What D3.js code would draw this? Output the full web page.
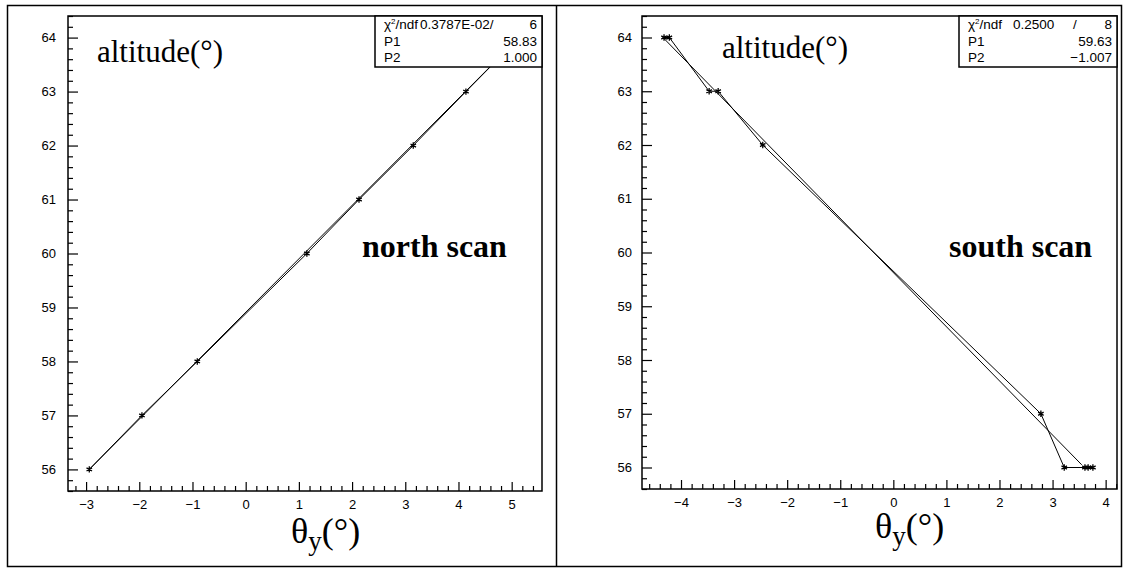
<!DOCTYPE html>
<html>
<head>
<meta charset="utf-8">
<script src="https://cdn.jsdelivr.net/npm/d3@7"></script>
<style>
  body { margin: 0; background: #fff; }
  svg { display: block; }
  .tick text { font-family: "Liberation Sans", Arial, sans-serif; font-size: 13px; fill: #000; }
  .stat { font-family: "Liberation Sans", Arial, sans-serif; font-size: 13.5px; }
  .serif { font-family: "Liberation Serif", "Times New Roman", serif; }
</style>
</head>
<body>
<svg width="1125" height="572"></svg>
<script>
// north scan
const northTheta = [-2.94, -1.95, -0.91, 1.15, 2.13, 3.15, 4.14, 5.14]
const northAlt = [56, 57, 58, 60, 61, 62, 63, 64]
const northFit = [[-2.94, 56], [5.14, 64]]
const northStats = [["0.3787E-02/", "6"], ["", "58.83"], ["", "1.000"]]

// south scan
const southTheta = [-4.32, -4.22, -3.47, -3.30, -2.46, 2.78, 3.22, 3.61, 3.67, 3.76]
const southAlt = [64, 64, 63, 63, 62, 57, 56, 56, 56, 56]
const southFit = [[-4.35, 64.01], [3.55, 56.05]]
const southStats = [["0.2500", "/", "8"], ["", "59.63"], ["", "\u22121.007"]]

const altTicks = [56, 57, 58, 59, 60, 61, 62, 63, 64]
const northXTicks = [-3, -2, -1, 0, 1, 2, 3, 4, 5]
const southXTicks = [-4, -3, -2, -1, 0, 1, 2, 3, 4]

const svg = d3.select("svg")

// outer border + separator
svg.append("rect").attr("x", 7.5).attr("y", 5.5).attr("width", 1114).attr("height", 561)
    .attr("fill", "none").attr("stroke", "#000").attr("stroke-width", 1.5)
svg.append("line").attr("x1", 556.5).attr("x2", 556.5).attr("y1", 5.5).attr("y2", 566.5)
    .attr("stroke", "#000").attr("stroke-width", 1.5)

function minorTicks(domain, step) {
    let out = []
    let start = Math.ceil(domain[0] / step)
    for (let i = start; i * step <= domain[1]; i++) {
        let v = +(i * step).toFixed(2)
        if (Math.abs(v - Math.round(v)) > 1e-6) out.push(v)
    }
    return out
}

function drawPanel(p) {
    let x = d3.scaleLinear().domain(p.xDomain).range([p.left, p.right])
    let y = d3.scaleLinear().domain([55.6, 64.4]).range([p.bottom, p.top])
    let g = svg.append("g")

    // x axis
    g.append("g").attr("transform", `translate(0,${p.bottom})`)
        .call(d3.axisBottom(x).tickValues(p.xTicks).tickSize(-9).tickPadding(9).tickFormat(d3.format("d")))
        .call(a => a.select(".domain").remove())
    g.append("g").attr("transform", `translate(0,${p.bottom})`)
        .call(d3.axisBottom(x).tickValues(minorTicks(p.xDomain, 0.2)).tickSize(-5).tickFormat(""))
        .call(a => a.select(".domain").remove())

    // y axis
    g.append("g").attr("transform", `translate(${p.left},0)`)
        .call(d3.axisLeft(y).tickValues(altTicks).tickSize(-10).tickPadding(p.yPad).tickFormat(d3.format("d")))
        .call(a => a.select(".domain").remove())
    g.append("g").attr("transform", `translate(${p.left},0)`)
        .call(d3.axisLeft(y).tickValues(minorTicks([55.6, 64.4], 0.2)).tickSize(-5).tickFormat(""))
        .call(a => a.select(".domain").remove())
    g.selectAll(".tick line").attr("stroke", "#000").attr("stroke-width", 1.2)

    // frame
    g.append("rect").attr("x", p.left).attr("y", p.top)
        .attr("width", p.right - p.left).attr("height", p.bottom - p.top)
        .attr("fill", "none").attr("stroke", "#000").attr("stroke-width", 1.5)

    let pts = p.theta.map((t, i) => [t, p.alt[i]])
    let line = d3.line().x(d => x(d[0])).y(d => y(d[1]))

    // fit line
    g.append("path").datum(p.fit).attr("d", line)
        .attr("fill", "none").attr("stroke", "#000").attr("stroke-width", 1)
    // polyline through the points
    g.append("path").datum(pts).attr("d", line)
        .attr("fill", "none").attr("stroke", "#000").attr("stroke-width", 1)
    g.selectAll(".marker").data(pts).join("path")
        .attr("class", "marker")
        .attr("transform", d => `translate(${x(d[0])},${y(d[1])})`)
        .attr("d", d3.symbol(d3.symbolAsterisk, 28))
        .attr("fill", "none").attr("stroke", "#000").attr("stroke-width", 1.3)

    // stats box
    let b = p.box
    g.append("rect").attr("x", b.x).attr("y", b.y).attr("width", b.w).attr("height", b.h)
        .attr("fill", "#fff").attr("stroke", "#000").attr("stroke-width", 1.5)
    let names = ["", "P1", "P2"]
    names.forEach((n, i) => {
        let ty = b.y + 13 + i * 16.5
        let t = g.append("text").attr("class", "stat").attr("x", b.x + 9).attr("y", ty)
        if (i === 0) {
            t.append("tspan").text("\u03c7")
            t.append("tspan").attr("font-size", "8px").attr("dy", -5).text("2")
            t.append("tspan").attr("dy", 5).text("/ndf")
        } else t.text(n)
        let vals = p.stats[i]
        g.append("text").attr("class", "stat").attr("x", b.x + b.w - 5).attr("y", ty)
            .attr("text-anchor", "end").text(vals[vals.length - 1])
        if (vals.length > 1 && vals[0]) {
            g.append("text").attr("class", "stat").attr("x", p.statX[0]).attr("y", ty).text(vals[0])
        }
        if (vals.length > 2) {
            g.append("text").attr("class", "stat").attr("x", p.statX[1]).attr("y", ty).text(vals[1])
        }
    })

    // labels
    g.append("text").attr("class", "serif").attr("x", p.altLabel[0]).attr("y", p.altLabel[1])
        .attr("font-size", "31px").text("altitude(\u00b0)")
    g.append("text").attr("class", "serif").attr("x", p.scanLabel[0]).attr("y", p.scanLabel[1])
        .attr("font-size", "32px").attr("font-weight", "bold").text(p.name)
    let tt = g.append("text").attr("class", "serif").attr("x", p.xTitle[0]).attr("y", p.xTitle[1])
        .attr("font-size", "36px")
    tt.append("tspan").text("\u03b8")
    tt.append("tspan").attr("font-size", "27px").attr("dy", 7).text("y")
    tt.append("tspan").attr("dy", -7).text("(\u00b0)")
}

drawPanel({
    name: "north scan", theta: northTheta, alt: northAlt, fit: northFit, stats: northStats,
    xDomain: [-3.34, 5.57], xTicks: northXTicks,
    left: 68, right: 542, top: 16, bottom: 491, yPad: 12,
    box: {x: 375, y: 16, w: 167, h: 51}, statX: [420],
    altLabel: [97, 62], scanLabel: [362, 257], xTitle: [291, 543]
})

drawPanel({
    name: "south scan", theta: southTheta, alt: southAlt, fit: southFit, stats: southStats,
    xDomain: [-4.735, 4.214], xTicks: southXTicks,
    left: 642, right: 1117, top: 16, bottom: 489, yPad: 10,
    box: {x: 959, y: 16, w: 158, h: 51}, statX: [1013, 1073],
    altLabel: [722, 58], scanLabel: [949, 257], xTitle: [875, 538]
})
</script>
</body>
</html>
